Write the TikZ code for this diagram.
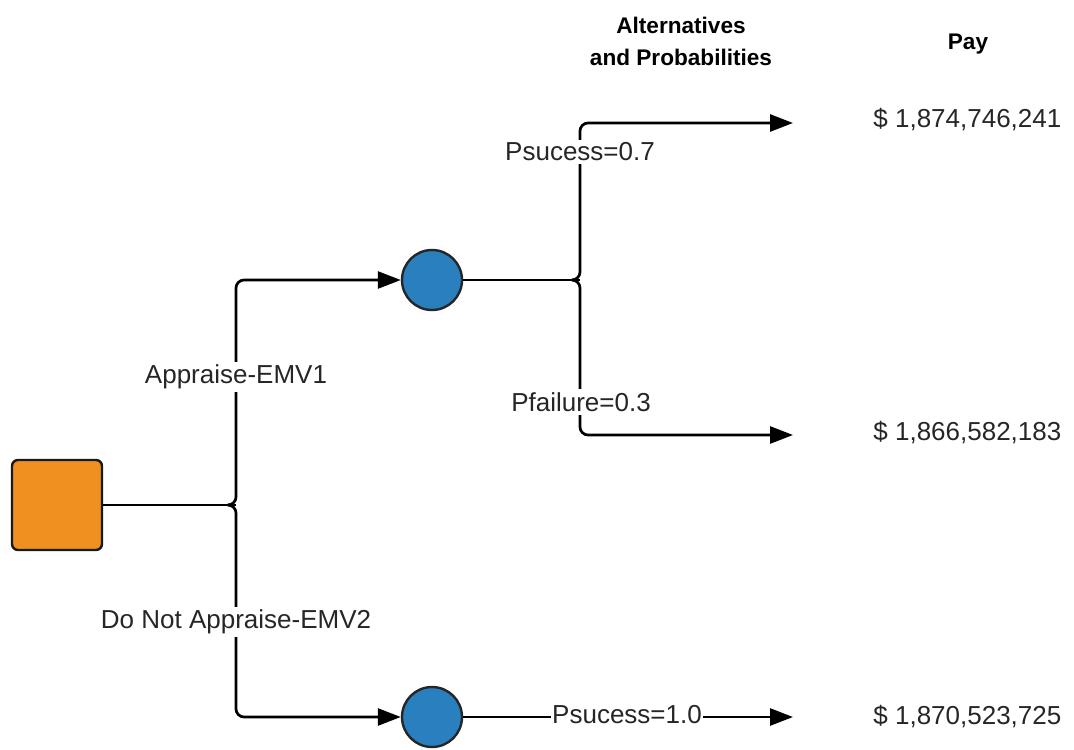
\documentclass[tikz,border=0pt]{standalone}
\usepackage{fontspec}
\setmainfont{Liberation Sans}
\usetikzlibrary{arrows.meta,positioning}
\definecolor{deccolor}{RGB}{240,144,32}
\definecolor{chancecolor}{RGB}{42,128,190}

\begin{document}
\begin{tikzpicture}[
	x=0.5pt,y=-0.5pt,
	decbox/.style={
		draw=black!90,
		fill=deccolor,
		rounded corners=3pt,
		line width=1.2pt,
		minimum size=45pt,
		inner sep=0pt
	},
	chance/.style={
		circle,
		draw=black!85,
		fill=chancecolor,
		line width=1.2pt,
		minimum size=30pt,
		inner sep=0pt
	},
	branch/.style={
		draw=black,
		line width=1.35pt,
		rounded corners=4pt
	},
	brancharrow/.style={
		branch,
		-{Triangle[length=11.5pt,width=8.5pt]}
	},
	problabel/.style={
		fill=white,
		inner sep=1.5pt,
		text=black!85,
		font=\fontsize{13}{15}\selectfont
	},
	paylabel/.style={
		anchor=west,
		inner sep=0pt,
		text=black!85,
		font=\fontsize{13}{15}\selectfont
	},
	headlabel/.style={
		align=center,
		inner sep=0pt,
		font=\bfseries\fontsize{11.3}{16}\selectfont
	}
	]
	
	\useasboundingbox (0,0) rectangle (1074,749);
	
	% Headings
	\node[headlabel] (althead) at (681,41) {Alternatives\\and Probabilities};
	\node[headlabel] (payhead) at (968,44) {Pay};
	
	% Decision and chance nodes
	\node[decbox] (decision) at (57,505) {};
	\node[chance] (appraise) at (432,280) {};
	\node[chance] (noappraise) at (432,717) {};
	
	% Junctions and arrow ends
	\coordinate (split) at (236,505);
	\coordinate (chancesplit) at (580,280);
	\coordinate (endsuccess) at (793,123);
	\coordinate (endfailure) at (793,435);
	\coordinate (endsure) at (793,717);
	
	% Payoffs
	\node[paylabel] (paysuccess) at (873,120) {\$ 1,874,746,241};
	\node[paylabel] (payfailure) at (873,433) {\$ 1,866,582,183};
	\node[paylabel] (paysure) at (873,717) {\$ 1,870,523,725};
	
	% Decision branches
	\draw[branch] (decision.east) -- (split);
	\draw[brancharrow] ([xshift=-3pt]split) -- (split) |- (appraise.west);
	\draw[brancharrow] ([xshift=-3pt]split) -- (split) |- (noappraise.west);
	
	% Chance branches
	\draw[branch] (appraise.east) -- (chancesplit);
	\draw[brancharrow] ([xshift=-3pt]chancesplit) -- (chancesplit) |- (endsuccess);
	\draw[brancharrow] ([xshift=-3pt]chancesplit) -- (chancesplit) |- (endfailure);
	\draw[brancharrow] (noappraise.east) -- (endsure);
	
	% Branch labels
	\node[problabel] (lblappraise) at (236,377) {Appraise-EMV1};
	\node[problabel] (lblnoappraise) at (236,622) {Do Not Appraise-EMV2};
	\node[problabel] (lblsuccess) at (580,152) {Psucess=0.7};
	\node[problabel] (lblfailure) at (581,402) {Pfailure=0.3};
	\node[problabel,inner sep=0.5pt] (lblsure) at (627,715) {Psucess=1.0};
	
\end{tikzpicture}
\end{document}
